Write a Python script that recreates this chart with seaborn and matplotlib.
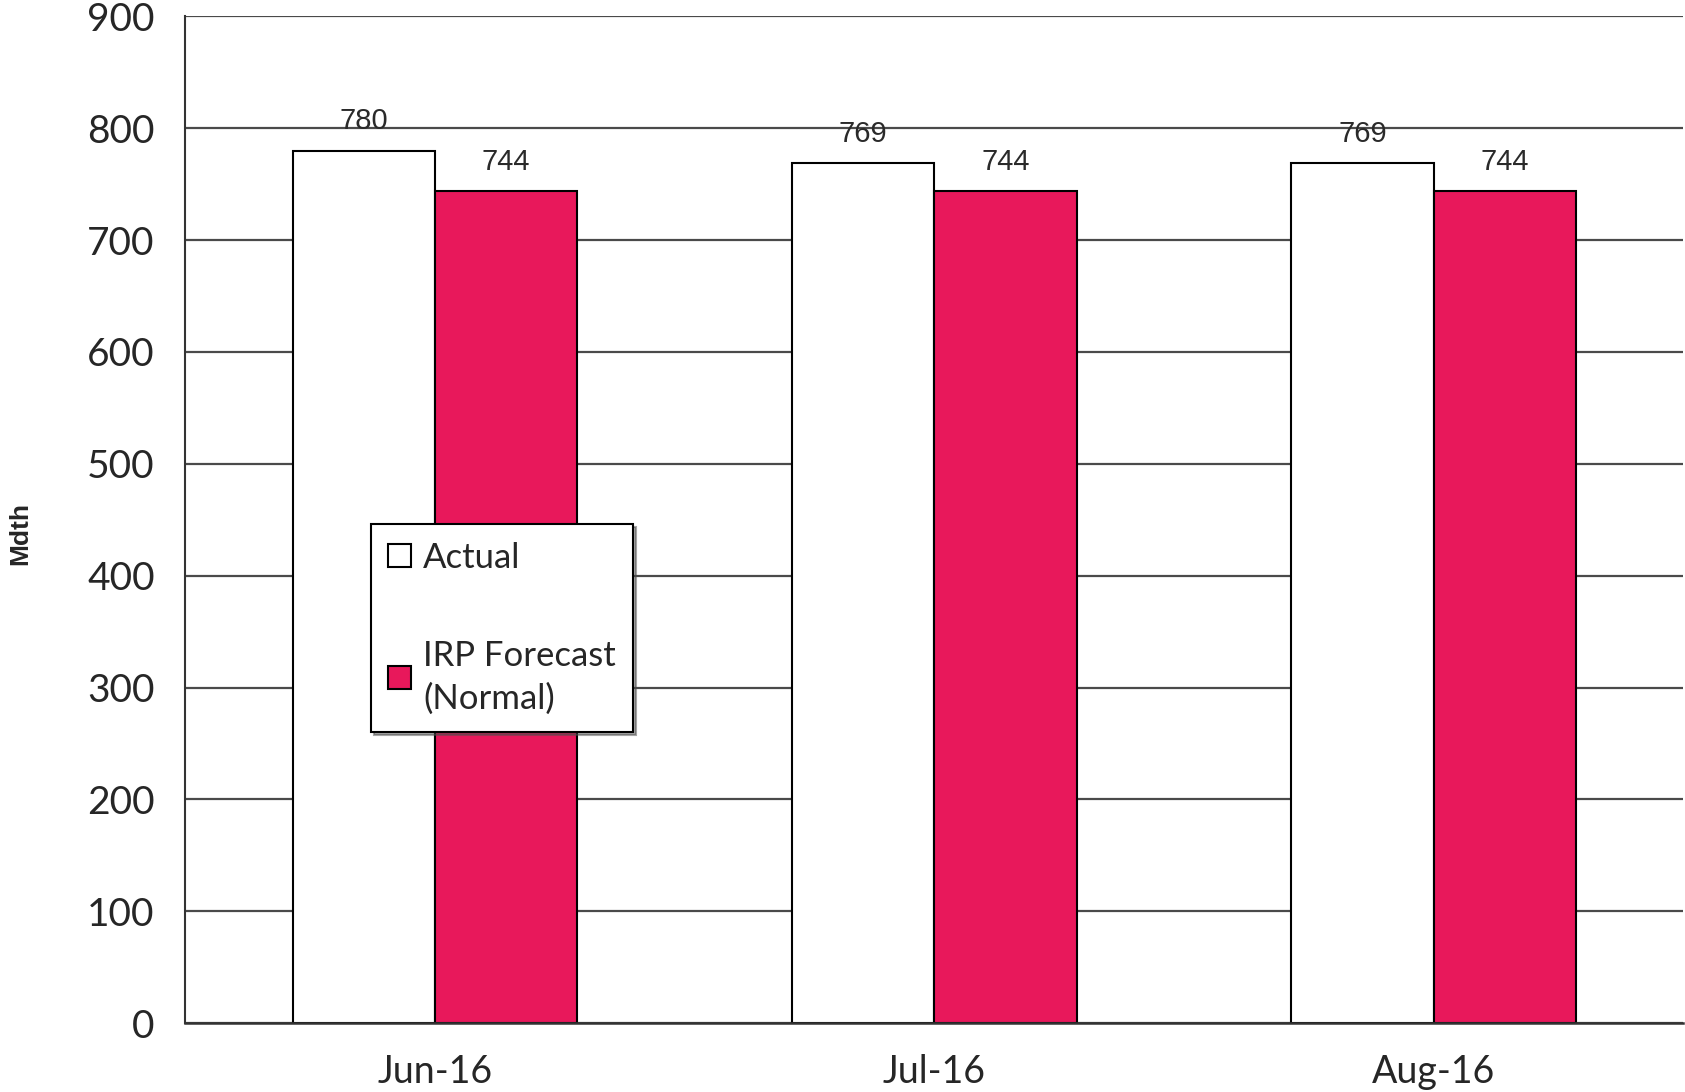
import pandas as pd
import numpy as np
import seaborn as sns
import matplotlib.pyplot as plt

# chart data
months = ["Jun-16", "Jul-16", "Aug-16"]
actual = [780, 769, 769]
forecast = [744, 744, 744]
series_names = ["Actual", "IRP Forecast\n(Normal)"]
y_ticks = [0, 100, 200, 300, 400, 500, 600, 700, 800, 900]

df = pd.DataFrame({
    "Month": months * 2,
    "Series": [series_names[0]] * len(months) + [series_names[1]] * len(months),
    "Mdth": actual + forecast,
})

sns.set_style("white")
plt.rcParams['font.family'] = ['Lato', 'DejaVu Sans']

fig = plt.figure(figsize=(16.85, 10.92), dpi=100)
ax = fig.add_axes([0.110, 0.063, 0.889, 0.922])

ax.set_axisbelow(True)
ax.yaxis.grid(True, color="#4a4a4a", linewidth=1.6)

sns.barplot(data=df, x="Month", y="Mdth", hue="Series",
            palette=["white", "#E8185B"], saturation=1, edgecolor="black", linewidth=1.5,
            width=0.57, errorbar=None, ax=ax)

for cont in ax.containers:
    ax.bar_label(cont, padding=11, fontsize=21, color="#2a2a2a",
                 family=['Liberation Sans'])

ax.set_ylim(0, 900)
ax.set_xlim(-0.5, 2.5)
ax.set_yticks(y_ticks)
ax.tick_params(axis='y', labelsize=28, length=12, width=1.2, color="#333333", pad=10)
ax.set_xticks(range(len(months)))
ax.set_xticklabels(months)
ax.tick_params(axis='x', which='major', labelsize=27, length=0, pad=22)
ax.set_xticks([-0.5, 0.5, 1.5, 2.5], minor=True)
ax.tick_params(axis='x', which='minor', length=12, width=1.2, color="#333333")

for side in ["top", "right"]:
    ax.spines[side].set_visible(False)
ax.spines["left"].set_color("#333333")
ax.spines["left"].set_linewidth(1.5)
ax.spines["bottom"].set_color("#333333")
ax.spines["bottom"].set_linewidth(1.8)

ax.set_xlabel("")
ax.set_ylabel("")
fig.text(0.012, 0.511, "Mdth", rotation=90, fontsize=19, fontweight="bold",
         family=['Liberation Sans'], ha="center", va="center")

leg = ax.legend(loc="upper left", bbox_to_anchor=(0.124, 0.4955), borderaxespad=0,
                fontsize=25, frameon=True, fancybox=False, shadow=True,
                framealpha=1, edgecolor="black", handlelength=0.65, handleheight=0.65,
                handletextpad=0.35, labelspacing=1.9, borderpad=0.5)
leg.get_frame().set_linewidth(1.5)
for t in leg.get_texts():
    t.set_linespacing(1.4)
for h in leg.legend_handles:
    h.set_edgecolor("black")
    h.set_linewidth(1.5)

plt.savefig("out.png", dpi=100)
